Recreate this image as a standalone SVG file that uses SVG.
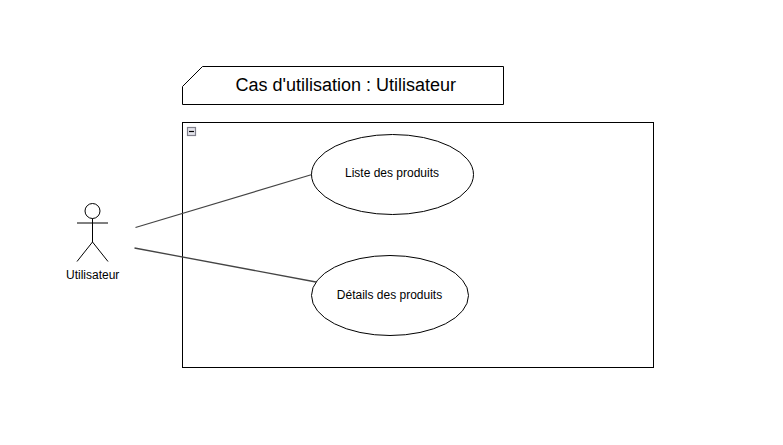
<svg xmlns="http://www.w3.org/2000/svg" width="783" height="445" viewBox="0 0 783 445">
<style>
.s{fill:none;stroke:#000;stroke-width:1}
.u{fill:#fff;stroke:#000;stroke-width:1}
.c{fill:none;stroke:#444;stroke-width:1.3}
text{font-family:"Liberation Sans",Arial,sans-serif;fill:#000;text-anchor:middle}
.l{font-size:12px}
</style>
<rect width="783" height="445" fill="#fff"/>
<g id="title">
<path class="u" d="M202.500 66.500H503.500V104.500H182.500V86.500Z"/>
<text x="345.700" y="91" font-size="18px">Cas d'utilisation : Utilisateur</text>
</g>
<g id="system">
<rect class="u" x="182.500" y="122.500" width="471" height="245"/>
<rect x="187.500" y="127.500" width="8" height="8" fill="#e4e4ec" stroke="#80808c" stroke-width="1.200"/>
<path d="M189 131.500H194" stroke="#000" stroke-width="1.200"/>
</g>
<g id="connectors">
<path class="c" d="M135.500 227.500L312 174.500"/>
<path class="c" d="M134.500 248L316 282" stroke-width="1.200"/>
</g>
<g id="uc1">
<ellipse class="u" cx="392.500" cy="174.500" rx="81" ry="40"/>
<text class="l" x="392" y="177">Liste des produits</text>
</g>
<g id="uc2">
<ellipse class="u" cx="390" cy="295.500" rx="78.500" ry="40"/>
<text class="l" x="389.500" y="299">Détails des produits</text>
</g>
<g id="actor">
<circle class="s" cx="92.500" cy="211" r="7.500"/>
<path class="s" d="M92.500 218.500V242M77 223H108M77 261.500L92.500 242L108 261.500"/>
<text class="l" x="92.700" y="279">Utilisateur</text>
</g>
</svg>
